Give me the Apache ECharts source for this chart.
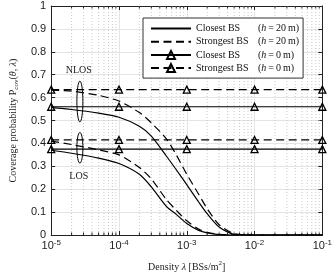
<!DOCTYPE html>
<html><head><meta charset="utf-8">
<script src="https://cdn.jsdelivr.net/npm/echarts@6/dist/echarts.min.js"></script>
<style>html,body{margin:0;padding:0;background:#fff}#c{width:335px;height:277px}</style>
</head><body><div id="c"></div>
<script>
// ---- data ----
const density = [1e-5, 2e-5, 5e-5, 1e-4, 2e-4, 3e-4, 5e-4, 7e-4, 1e-3, 1.5e-3, 2e-3, 3e-3, 5e-3, 1e-2, 1e-1];
const nlosClosest20   = [0.556, 0.548, 0.532, 0.514, 0.475, 0.432, 0.345, 0.285, 0.220, 0.144, 0.093, 0.035, 0.003, 0, 0];
const nlosStrongest20 = [0.633, 0.628, 0.610, 0.585, 0.535, 0.490, 0.420, 0.350, 0.265, 0.178, 0.115, 0.045, 0.006, 0, 0];
const losClosest20    = [0.370, 0.357, 0.336, 0.312, 0.265, 0.210, 0.125, 0.090, 0.050, 0.020, 0.009, 0.002, 0, 0, 0];
const losStrongest20  = [0.410, 0.395, 0.372, 0.350, 0.295, 0.245, 0.155, 0.108, 0.062, 0.026, 0.012, 0.003, 0, 0, 0];
const decades = [1e-5, 1e-4, 1e-3, 1e-2, 1e-1];
const nlosClosest0   = [0.56, 0.56, 0.56, 0.56, 0.56];
const nlosStrongest0 = [0.635, 0.635, 0.635, 0.635, 0.635];
const losClosest0    = [0.375, 0.375, 0.375, 0.375, 0.375];
const losStrongest0  = [0.415, 0.415, 0.415, 0.415, 0.415];
const minorTicks = [2e-5,3e-5,4e-5,5e-5,6e-5,7e-5,8e-5,9e-5,
                    2e-4,3e-4,4e-4,5e-4,6e-4,7e-4,8e-4,9e-4,
                    2e-3,3e-3,4e-3,5e-3,6e-3,7e-3,8e-3,9e-3,
                    2e-2,3e-2,4e-2,5e-2,6e-2,7e-2,8e-2,9e-2];
const legendNames = ['Closest BS (h = 20 m)', 'Strongest BS (h = 20 m)', 'Closest BS (h = 0 m)', 'Strongest BS (h = 0 m)'];
const legendMain = ['Closest BS', 'Strongest BS', 'Closest BS', 'Strongest BS'];
const legendH = ['20', '20', '0', '0'];
const legendHasMarker = [false, false, true, true];
const annotLabels = ['NLOS', 'LOS'];
const annotLabelX = [2.55e-5, 2.55e-5];
const annotLabelY = [0.72, 0.255];
const ellipseX = [2.65e-5, 2.65e-5];
const ellipseY = [0.583, 0.381];
const ellipseHalf = [0.089, 0.067];

const pairs = (xs, ys) => xs.map((x, i) => [x, ys[i]]);
const serif = 'Liberation Serif';
const sans = 'Liberation Sans';
const DASH = [8, 4.5];

const chart = echarts.init(document.getElementById('c'), null, {renderer: 'canvas'});

function curve(name, ys, dashed) {
  return {
    name, type: 'line', data: pairs(density, ys), symbol: 'none', smooth: 0.25,
    lineStyle: {color: '#000', width: 1.2, type: dashed ? DASH : 'solid'},
    itemStyle: {color: '#000'}, z: 4, silent: true
  };
}
function flat(name, ys, dashed) {
  return {
    name, type: 'line', data: pairs(decades, ys), symbol: 'triangle', symbolSize: 7,
    lineStyle: {color: '#000', width: 1.2, type: dashed ? DASH : 'solid'},
    itemStyle: {color: 'rgba(0,0,0,0)', borderColor: '#000', borderWidth: 1.3}, z: 5, clip: false, silent: true
  };
}

const option = {
  animation: false,
  backgroundColor: '#fff',
  grid: {left: 37, right: 8, top: 6, bottom: 33, containLabel: false},
  xAxis: [{
    type: 'log', logBase: 10, min: 1e-5, max: 1e-1, position: 'bottom',
    axisLine: {show: true, onZero: false, lineStyle: {color: '#222', width: 1}},
    axisTick: {inside: true, length: 4, lineStyle: {color: '#222'}},
    splitLine: {show: true, lineStyle: {color: '#e4e4e4', width: 1}},
    axisLabel: {
      margin: 11, color: '#222', verticalAlign: 'middle',
      formatter: v => '{b|10}{s|' + Math.round(Math.log10(v)) + '}',
      rich: {
        b: {fontFamily: sans, fontSize: 11, lineHeight: 14, color: '#222'},
        s: {fontFamily: sans, fontSize: 8, lineHeight: 8, verticalAlign: 'top', color: '#222'}
      }
    },
    name: '{n|Density }{i|λ}{n| [BSs/m}{sup|2}{n|]}', nameLocation: 'middle', nameGap: 25,
    nameTextStyle: {
      rich: {
        n: {fontFamily: serif, fontSize: 10, lineHeight: 14, color: '#222'},
        i: {fontFamily: serif, fontSize: 10, lineHeight: 14, fontStyle: 'italic', color: '#222'},
        sup: {fontFamily: serif, fontSize: 7, lineHeight: 8, verticalAlign: 'top', color: '#222'}
      }
    }
  }, {
    type: 'log', logBase: 10, min: 1e-5, max: 1e-1, position: 'top',
    axisLine: {show: true, onZero: false, lineStyle: {color: '#222', width: 1}},
    axisTick: {inside: true, length: 4, lineStyle: {color: '#222'}},
    axisLabel: {show: false}, splitLine: {show: false}
  }],
  yAxis: [{
    type: 'value', min: 0, max: 1, interval: 0.1, position: 'left',
    axisLine: {show: true, onZero: false, lineStyle: {color: '#222', width: 1}},
    axisTick: {show: true, inside: true, length: 4, lineStyle: {color: '#222'}},
    splitLine: {show: true, lineStyle: {color: '#e4e4e4', width: 1}},
    axisLabel: {margin: 5, color: '#222', fontFamily: sans, fontSize: 11},
    name: '{n|Coverage probability P}{sub|cov}{n|(}{i|θ}{n|, }{i|λ}{n|)}',
    nameLocation: 'middle', nameGap: 27,
    nameTextStyle: {
      rich: {
        n: {fontFamily: serif, fontSize: 10, lineHeight: 14, color: '#222'},
        i: {fontFamily: serif, fontSize: 10, lineHeight: 14, fontStyle: 'italic', color: '#222'},
        sub: {fontFamily: serif, fontSize: 7, lineHeight: 8, verticalAlign: 'bottom', color: '#222'}
      }
    }
  }, {
    type: 'value', min: 0, max: 1, interval: 0.1, position: 'right',
    axisLine: {show: true, onZero: false, lineStyle: {color: '#222', width: 1}},
    axisTick: {show: true, inside: true, length: 4, lineStyle: {color: '#222'}},
    axisLabel: {show: false}, splitLine: {show: false}
  }],
  legend: {
    data: legendNames.map((n, i) => legendHasMarker[i] ? {name: n}
      : {name: n, itemStyle: {color: 'rgba(0,0,0,0)', borderColor: 'rgba(0,0,0,0)', borderWidth: 0}}),
    orient: 'vertical', left: 143, top: 18,
    backgroundColor: '#fff', borderColor: '#333', borderWidth: 1, borderRadius: 0,
    padding: [5.5, 4, 5, 7], itemGap: 3.2, itemWidth: 40, itemHeight: 10, itemTextGap: 5,
    selectedMode: false,
    formatter: name => {
      const i = legendNames.indexOf(name);
      return '{a|' + legendMain[i] + '}{b|(}{i|h}{e|=}{b|' + legendH[i] + '}{m|m)}';
    },
    textStyle: {
      fontFamily: serif, fontSize: 10, color: '#111',
      rich: {
        a: {fontFamily: serif, fontSize: 10, width: 62, lineHeight: 10, color: '#111'},
        b: {fontFamily: serif, fontSize: 10, lineHeight: 10, color: '#111'},
        e: {fontFamily: serif, fontSize: 10, lineHeight: 10, color: '#111', padding: [0, 2, 0, 2]},
        m: {fontFamily: serif, fontSize: 10, lineHeight: 10, color: '#111', padding: [0, 0, 0, 2]},
        i: {fontFamily: serif, fontSize: 10, lineHeight: 10, fontStyle: 'italic', color: '#111'}
      }
    }
  },
  series: [
    {
      type: 'custom', z: 1, silent: true, data: minorTicks.map(v => [v, 0]),
      encode: {x: 0, y: 1},
      renderItem: (params, api) => {
        const x = api.value(0);
        const b = api.coord([x, 0]);
        const t = api.coord([x, 1]);
        return {type: 'group', children: [
          {type: 'line', shape: {x1: b[0], y1: b[1], x2: t[0], y2: t[1]},
           style: {stroke: '#bdbdbd', lineWidth: 0.8, lineDash: [1, 2]}},
          {type: 'line', shape: {x1: b[0], y1: b[1], x2: b[0], y2: b[1] - 2.5}, style: {stroke: '#222', lineWidth: 1}},
          {type: 'line', shape: {x1: t[0], y1: t[1], x2: t[0], y2: t[1] + 2.5}, style: {stroke: '#222', lineWidth: 1}}
        ]};
      }
    },
    curve(legendNames[0], nlosClosest20, false),
    curve(legendNames[0], losClosest20, false),
    curve(legendNames[1], nlosStrongest20, true),
    curve(legendNames[1], losStrongest20, true),
    flat(legendNames[2], nlosClosest0, false),
    flat(legendNames[2], losClosest0, false),
    flat(legendNames[3], nlosStrongest0, true),
    flat(legendNames[3], losStrongest0, true),
    {
      type: 'custom', z: 6, silent: true, data: ellipseX.map((x, i) => [x, ellipseY[i], ellipseHalf[i]]),
      encode: {x: 0, y: 1},
      renderItem: (params, api) => {
        const c = api.coord([api.value(0), api.value(1)]);
        const top = api.coord([api.value(0), api.value(1) + api.value(2)]);
        return {type: 'ellipse', shape: {cx: c[0], cy: c[1], rx: 3, ry: c[1] - top[1]},
                style: {fill: 'none', stroke: '#000', lineWidth: 1}};
      }
    },
    {
      type: 'custom', z: 6, silent: true, data: annotLabelX.map((x, i) => [x, annotLabelY[i], i]),
      encode: {x: 0, y: 1},
      renderItem: (params, api) => {
        const c = api.coord([api.value(0), api.value(1)]);
        return {type: 'text', x: c[0], y: c[1],
                style: {text: annotLabels[api.value(2)], font: '10px "Liberation Serif"', fill: '#222',
                        align: 'center', verticalAlign: 'middle'}};
      }
    }
  ]
};
chart.setOption(option);
</script>
</body></html>
